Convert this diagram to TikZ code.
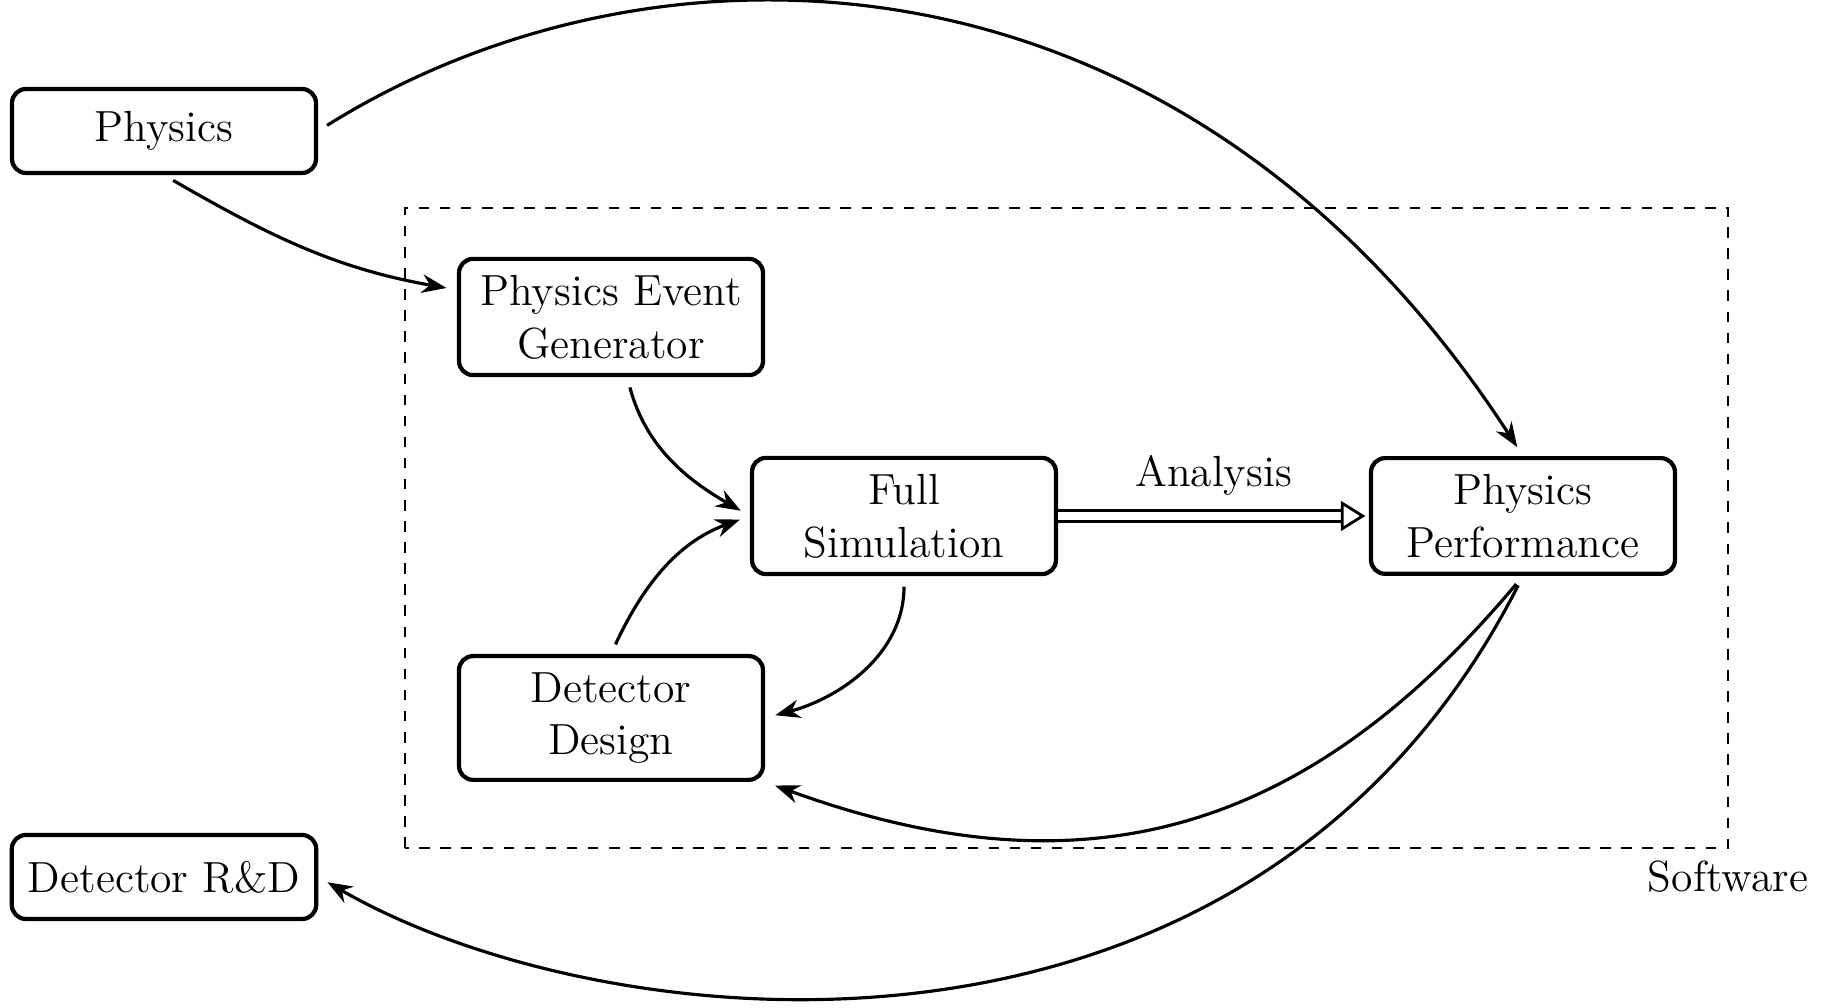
\documentclass[tikz,border=0pt]{standalone}
\usetikzlibrary{arrows.meta}

\begin{document}
\begin{tikzpicture}[font=\fontsize{12.4}{15}\selectfont, >={Stealth},
    main/.style = {draw, very thick, rounded corners=4pt, align=center, inner sep=4.6pt, minimum width=3.04cm, minimum height=0.84cm},
    flow/.style = {->, line width=0.9pt, shorten >=3pt, shorten <=3pt}]
    \useasboundingbox (0,0) rectangle (18.26,10.08);

    % software frame
    \draw[dashed] (4.05,1.60) rectangle (17.28,8.00);
    \node (swlabel) [below] at (17.28,1.60) {Software};

    \node[main] (phys) at (1.64,8.77) {Physics};
    \node[main] (rnd) at (1.64,1.31) {Detector R\&D};
    \node[main] (gen) at (6.11,6.91) {Physics Event\\Generator};
    \node[main] (design) at (6.11,2.90) {Detector\\Design};
    \node[main] (sim) at (9.04,4.92) {Full\\Simulation};
    \node[main] (perf) at (15.23,4.92) {Physics\\Performance};

    \draw[flow] (phys.south) to[out=-30, in=170] (gen);
    \draw[flow] (phys.east) .. controls +(32:4.0) and +(123:6.25) .. (perf.north);
    \draw[flow] (gen) to[out=-75, in=150] (sim.west);
    \draw[flow] (design.north) to[out=65, in=200] (sim.west);
    \draw[flow] (sim.south) to[out=-90, in=15] (design.east);
    \draw[thick, double, double distance=2.4pt, shorten >=1pt, -{Triangle[open, length=7pt, width=8.5pt]}] (sim.east) -- node[above, yshift=2pt] (ana) {Analysis} (perf.west);
    \draw[flow] (perf.south) to[out=-130, in=-20, looseness=1.1] (design.south east);
    \draw[flow] (perf.south) .. controls +(-117:6) and +(-30:3.3) .. (rnd.east);
\end{tikzpicture}
\end{document}
